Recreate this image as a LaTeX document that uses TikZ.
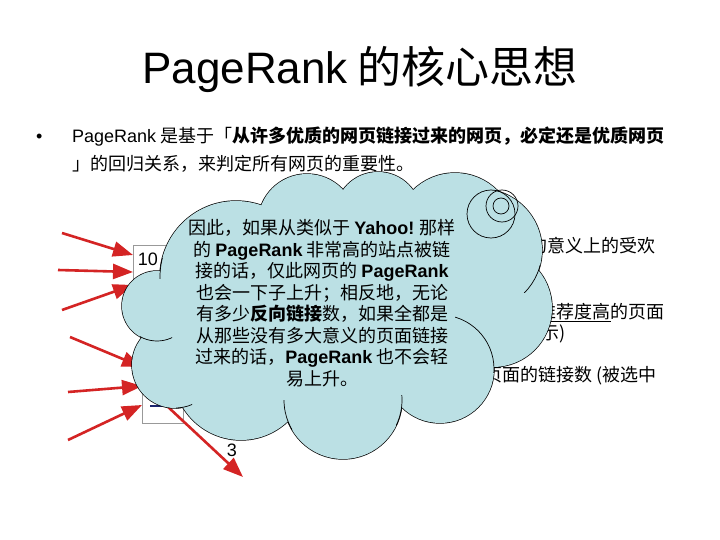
\documentclass[tikz,border=0pt]{standalone}
\usepackage{fontspec}
\setmainfont{Noto Sans CJK SC}
\newfontfamily\lat{Liberation Sans}
\usetikzlibrary{arrows.meta}
\definecolor{cloudblue}{RGB}{187,224,228}
\definecolor{linkred}{RGB}{212,36,36}
\definecolor{dashnavy}{RGB}{26,36,110}
\newcommand{\prname}{{\lat\bfseries PageRank}}
\tikzset{
  bodytext/.style = {inner sep=0pt, font=\fontsize{18}{21.5}\selectfont},
  linetext/.style = {bodytext, anchor=base west},
  sidetext/.style = {bodytext, anchor=base east},
  pagebox/.style  = {draw=black!40, fill=white, line width=0.6pt,
                     inner sep=0pt, anchor=north west},
  link/.style     = {color=linkred, line width=2.6pt,
                     arrows={-Triangle[length=20pt,width=15pt]}},
}

\begin{document}
\begin{tikzpicture}[x=1pt, y=-1pt]
	\fill[white] (0,0) rectangle (720,540);
	\useasboundingbox (0,0) rectangle (720,540);

	% heading and bullet
	\node[anchor=base, inner sep=0pt, font=\fontsize{44}{50}\selectfont] (title)
		at (360,84) {{\lat PageRank} 的核心思想};
	\node[linetext] (bullet) at (36,143) {\lat •};
	\node[linetext] (line1) at (72,143)
		{{\lat PageRank} 是基于「\textbf{从许多优质的网页链接过来的网页，必定还是优质网页}};
	\node[linetext] (line2) at (72,171) {」的回归关系，来判定所有网页的重要性。};

	% text lying under the cloud
	\node[sidetext] (side1) at (656,252) {的意义上的受欢};
	\node[sidetext] (side2) at (665,318) {\underline{推荐度高}的页面};
	\node[sidetext] (side3) at (566,339) {示)};
	\node[sidetext] (side4) at (657,381) {页面的链接数 (被选中};

	% pages and links
	\node[pagebox, minimum width=67pt, minimum height=55pt] (topbox) at (133,245) {};
	\node[pagebox, minimum width=41pt, minimum height=93pt] (lowbox) at (142,330) {};
	\node[bodytext] (rank) at (148,259) {\lat 10};
	\coordinate (d1) at (150,406);
	\coordinate (d2) at (167,406);
	\draw[dashnavy, line width=2.4pt] (d1) -- (d2);

	\coordinate (s1) at (62,233);  \coordinate (t1) at (133,255);
	\coordinate (s2) at (58,270);  \coordinate (t2) at (133,272);
	\coordinate (s3) at (62,310);  \coordinate (t3) at (133,285);
	\coordinate (s4) at (70,337);  \coordinate (t4) at (142,367);
	\coordinate (s5) at (68,392);  \coordinate (t5) at (142,386);
	\coordinate (s6) at (68,440);  \coordinate (t6) at (142,405);
	\coordinate (out) at (243,477);
	\foreach \i in {1,...,6}
		\draw[link] (s\i) -- (t\i);
	\draw[link] (d2) -- (out);

	% cloud callout
	\foreach \cx/\cy/\r in {236/277/76, 307/223/49, 378/215/43, 455/233/60,
			481/250/61, 493/308/59, 440/369/54, 343/400/59, 241/372/68,
			175/365/43, 157/306/35}
		\draw[line width=1.4pt] (\cx,\cy) circle[radius=\r pt];
	\foreach \cx/\cy/\r in {236/277/76, 307/223/49, 378/215/43, 455/233/60,
			481/250/61, 493/308/59, 440/369/54, 343/400/59, 241/372/68,
			175/365/43, 157/306/35}
		\fill[cloudblue] (\cx,\cy) circle[radius=\r pt];
	\fill[cloudblue] (236,277) -- (307,223) -- (378,215) -- (455,233) -- (481,250)
		-- (493,308) -- (440,369) -- (343,400) -- (241,372) -- (175,365) -- (157,306) -- cycle;
	\foreach \cx/\cy/\r/\ax/\ay/\bx/\by in {440/369/54/455/312/500/372,
			481/250/61/520/265/540/292, 236/277/76/158/258/168/278,
			157/306/35/140/330/172/345, 175/365/43/176/398/192/410,
			343/400/59/278/400/292/430, 343/400/59/396/395/412/425}
	{
		\begin{scope}
			\clip (\ax,\ay) rectangle (\bx,\by);
			\draw[line width=0.7pt] (\cx,\cy) circle[radius=\r pt];
		\end{scope}
	}
	\draw[line width=0.7pt] (491,214) circle[radius=24pt];
	\draw[line width=0.7pt] (502,206) circle[radius=16pt];
	\draw[line width=0.7pt] (501,206) circle[radius=8pt];

	\node[bodytext, align=center] (note) at (322,303) {%
		因此，如果从类似于 {\lat\bfseries Yahoo!} 那样\\
		的 \prname{} 非常高的站点被链\\
		接的话，仅此网页的 \prname\\
		也会一下子上升；相反地，无论\\
		有多少\textbf{反向链接}数，如果全都是\\
		从那些没有多大意义的页面链接\\
		过来的话，\prname{} 也不会轻\\
		易上升。};

	\node[bodytext] (outrank) at (232,450) {\lat 3};
\end{tikzpicture}
\end{document}
